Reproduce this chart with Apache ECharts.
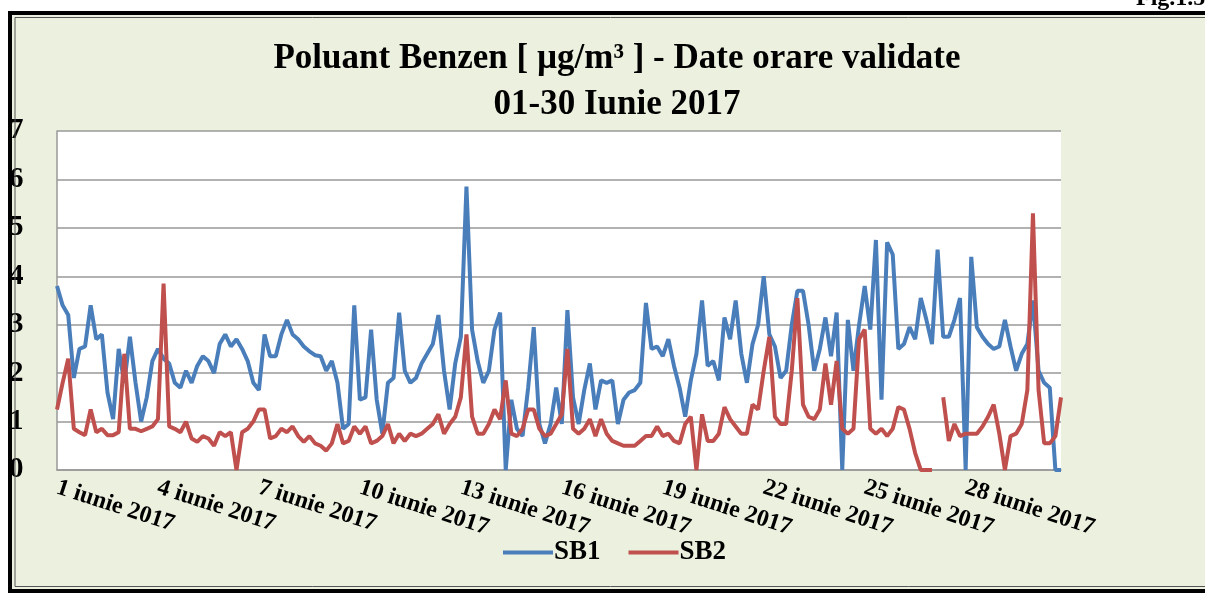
<!DOCTYPE html>
<html>
<head>
<meta charset="utf-8">
<title>Poluant Benzen - Iunie 2017</title>
<script src="https://cdn.jsdelivr.net/npm/echarts@6/dist/echarts.min.js"></script>
<style>
  html, body { margin: 0; padding: 0; background: #fff; }
  #chart { width: 1205px; height: 594px; }
</style>
</head>
<body>
<div id="chart"></div>
<script>
// 6 valori pe zi (la fiecare 4 ore), 30 zile
const days = [];
for (let d = 1; d <= 30; d++) days.push(d);
const hours = ['00', '04', '08', '12', '16', '20'];
const tickLabels = ['1 iunie 2017', '4 iunie 2017', '7 iunie 2017', '10 iunie 2017', '13 iunie 2017',
  '16 iunie 2017', '19 iunie 2017', '22 iunie 2017', '25 iunie 2017', '28 iunie 2017'];

const sb1 = [
  3.8, 3.4, 3.2, 1.9, 2.5, 2.55, 3.4, 2.7, 2.8, 1.6,
  1.05, 2.5, 1.8, 2.75, 1.8, 1.0, 1.5, 2.25, 2.5, 2.3,
  2.2, 1.8, 1.7, 2.05, 1.8, 2.15, 2.35, 2.25, 2.0, 2.6,
  2.8, 2.55, 2.7, 2.5, 2.25, 1.8, 1.65, 2.8, 2.35, 2.35,
  2.8, 3.1, 2.8, 2.7, 2.55, 2.45, 2.37, 2.35, 2.05, 2.25,
  1.8, 0.85, 0.95, 3.4, 1.45, 1.5, 2.9, 1.45, 0.75, 1.8,
  1.9, 3.25, 2.05, 1.8, 1.9, 2.2, 2.4, 2.6, 3.2, 2.05,
  1.25, 2.2, 2.75, 5.85, 2.9, 2.25, 1.8, 2.05, 2.9, 3.25,
  0.0, 1.45, 0.85, 0.7, 1.7, 2.95, 0.95, 0.55, 0.95, 1.7,
  0.95, 3.3, 1.5, 0.95, 1.65, 2.2, 1.25, 1.85, 1.8, 1.85,
  0.95, 1.45, 1.6, 1.65, 1.8, 3.45, 2.5, 2.55, 2.35, 2.7,
  2.15, 1.7, 1.1, 1.85, 2.4, 3.5, 2.15, 2.25, 1.85, 3.15,
  2.7, 3.5, 2.4, 1.8, 2.6, 3.0, 4.0, 2.8, 2.55, 1.9,
  2.05, 3.0, 3.7, 3.7, 3.0, 2.05, 2.5, 3.15, 2.35, 3.25,
  0.0, 3.1, 2.05, 3.0, 3.8, 2.9, 4.75, 1.45, 4.7, 4.45,
  2.5, 2.6, 2.95, 2.7, 3.55, 3.1, 2.6, 4.55, 2.75, 2.75,
  3.1, 3.55, 0.0, 4.4, 2.95, 2.75, 2.6, 2.5, 2.55, 3.1,
  2.55, 2.05, 2.4, 2.6, 3.5, 2.05, 1.8, 1.7, 0.0, 0.0
];

const sb2 = [
  1.25, 1.8, 2.3, 0.85, 0.78, 0.72, 1.25, 0.78, 0.85, 0.72,
  0.72, 0.78, 2.4, 0.85, 0.85, 0.8, 0.85, 0.9, 1.05, 3.85,
  0.9, 0.85, 0.78, 1.0, 0.65, 0.58, 0.7, 0.65, 0.5, 0.78,
  0.7, 0.78, 0.0, 0.78, 0.85, 1.0, 1.25, 1.25, 0.65, 0.7,
  0.85, 0.78, 0.9, 0.7, 0.58, 0.7, 0.55, 0.5, 0.4, 0.55,
  0.95, 0.55, 0.6, 0.9, 0.75, 0.9, 0.55, 0.6, 0.7, 0.95,
  0.55, 0.75, 0.6, 0.75, 0.7, 0.75, 0.85, 0.95, 1.15, 0.75,
  0.95, 1.1, 1.5, 2.8, 1.1, 0.75, 0.75, 0.95, 1.25, 1.05,
  1.85, 0.75, 0.7, 0.85, 1.25, 1.25, 0.85, 0.7, 0.75, 0.95,
  1.15, 2.5, 0.85, 0.75, 0.85, 1.05, 0.7, 1.05, 0.75, 0.6,
  0.55, 0.5, 0.5, 0.5, 0.6, 0.7, 0.7, 0.9, 0.7, 0.75,
  0.6, 0.55, 0.95, 1.1, 0.0, 1.15, 0.6, 0.6, 0.75, 1.3,
  1.05, 0.9, 0.75, 0.75, 1.35, 1.25, 2.05, 2.75, 1.1, 0.95,
  0.95, 2.05, 3.55, 1.35, 1.1, 1.05, 1.25, 2.2, 1.35, 2.25,
  0.85, 0.75, 0.85, 2.7, 2.9, 0.85, 0.75, 0.85, 0.7, 0.85,
  1.3, 1.25, 0.85, 0.35, 0.0, 0.0, 0.0, null, 1.5, 0.6,
  0.95, 0.7, 0.75, 0.75, 0.75, 0.9, 1.1, 1.35, 0.75, 0.0,
  0.7, 0.75, 0.95, 1.65, 5.3, 1.65, 0.55, 0.55, 0.7, 1.5
];

const categories = [];
days.forEach(d => hours.forEach(h => categories.push(d + ' iunie 2017 ' + h + ':00')));
const perTick = hours.length * 3;

const serif = '"Liberation Serif", "Times New Roman", serif';
const chart = echarts.init(document.getElementById('chart'));

chart.setOption({
  animation: false,
  graphic: [
    // fundal verde deschis al cadrului
    { type: 'rect', z: -10, silent: true,
      shape: { x: 10, y: 13, width: 1210, height: 578 },
      style: { fill: '#EBF1DE' } },
    // cadru dublu
    { type: 'rect', z: 100, silent: true,
      shape: { x: 10, y: 13, width: 1210, height: 578 },
      style: { fill: null, stroke: '#000', lineWidth: 4 } },
    { type: 'rect', z: 100, silent: true,
      shape: { x: 15, y: 17.5, width: 1205, height: 569 },
      style: { fill: null, stroke: '#555', lineWidth: 1 } },
    { type: 'text', z: 100, silent: true, left: 1136, top: -13,
      style: { text: 'Fig.1.5.', font: 'bold 24px ' + serif, fill: '#000' } }
  ],
  title: {
    text: 'Poluant Benzen [ µg/m³ ] - Date orare validate\n01-30 Iunie 2017',
    left: 612,
    textAlign: 'center',
    top: 31,
    textStyle: {
      fontFamily: serif,
      fontWeight: 'bold',
      fontSize: 35,
      lineHeight: 46,
      color: '#000'
    }
  },
  legend: {
    data: ['SB1', 'SB2'],
    left: 498,
    top: 534,
    icon: 'rect',
    itemWidth: 50,
    itemHeight: 4,
    itemGap: 28,
    textStyle: { fontFamily: serif, fontWeight: 'bold', fontSize: 27, color: '#000', padding: [0, 0, 0, -4] }
  },
  grid: {
    left: 57,
    right: 144,
    top: 131,
    bottom: 124,
    show: true,
    backgroundColor: '#fff',
    borderWidth: 0
  },
  xAxis: {
    type: 'category',
    data: categories,
    boundaryGap: false,
    axisLine: { lineStyle: { color: '#999', width: 1.5 } },
    axisTick: { show: false },
    axisLabel: {
      interval: perTick - 1,
      rotate: -18,
      margin: 17,
      fontFamily: serif,
      fontWeight: 'bold',
      fontSize: 24,
      color: '#000',
      formatter: (val, idx) => tickLabels[Math.round(idx / perTick)] || ''
    },
    splitLine: { show: false }
  },
  yAxis: {
    type: 'value',
    min: 0,
    max: 7,
    interval: 1,
    axisLine: { show: true, lineStyle: { color: '#999', width: 1.5 } },
    axisTick: { show: false },
    axisLabel: {
      align: 'left',
      margin: 48,
      fontFamily: serif,
      fontWeight: 'bold',
      fontSize: 29,
      color: '#000'
    },
    splitLine: { lineStyle: { color: '#999', width: 1.5 } }
  },
  series: [
    {
      name: 'SB1',
      type: 'line',
      data: sb1,
      symbol: 'none',
      color: '#4A7EBB',
      lineStyle: { width: 4, color: '#4A7EBB' }
    },
    {
      name: 'SB2',
      type: 'line',
      data: sb2,
      symbol: 'none',
      connectNulls: false,
      color: '#C0504D',
      lineStyle: { width: 4, color: '#C0504D' }
    }
  ]
});
</script>
</body>
</html>
